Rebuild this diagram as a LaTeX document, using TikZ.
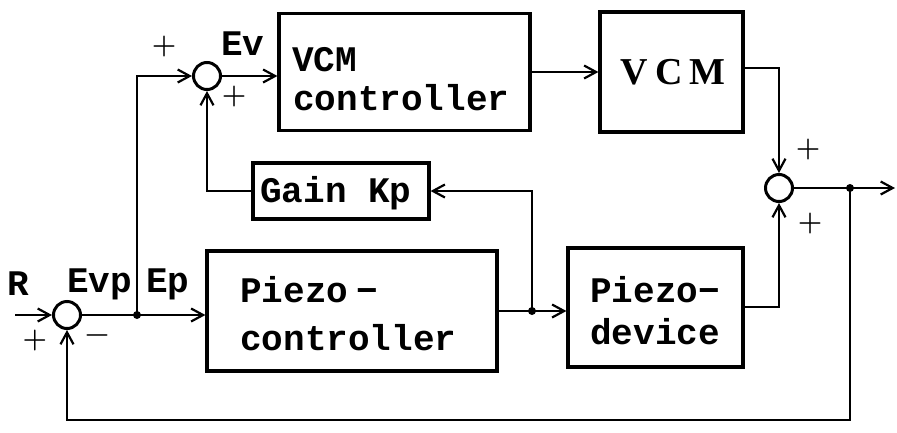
\documentclass[tikz,border=0pt]{standalone}
\usepackage{fontspec}
\setmonofont{Liberation Mono}
\newfontfamily\serifb{Liberation Serif}
\usetikzlibrary{arrows.meta}
\begin{document}
\begin{tikzpicture}[x=1pt,y=-1pt,
  blk/.style={draw,line width=3.2pt},
  sumc/.style={draw,circle,line width=3pt,minimum size=27pt,inner sep=0pt},
  txt/.style={font=\ttfamily\bfseries\fontsize{36}{38}\selectfont,inner sep=0pt,anchor=west},
  sgn/.style={font=\bfseries\fontsize{28}{28}\selectfont,inner sep=0pt},
  ln/.style={line width=2.8pt},
  arr/.style={ln,-{Straight Barb[length=12pt,width=13pt,line width=2.2pt]}},
  dot/.style={circle,fill,inner sep=0pt,minimum size=8pt}]
\useasboundingbox (0,0) rectangle (897,432);
% blocks
\node[blk,minimum width=251pt,minimum height=117pt] (vcmc) at (404.5,72) {};
\node[blk,minimum width=143pt,minimum height=120pt] (vcm) at (671.5,72) {};
\node[blk,minimum width=176pt,minimum height=56pt] (gain) at (341,191) {};
\node[blk,minimum width=290pt,minimum height=120pt] (pc) at (352,311) {};
\node[blk,minimum width=175pt,minimum height=119pt] (pd) at (655.5,307.5) {};
% texts
\node[txt] (t1) at (292,60) {VCM};
\node[txt] (t2) at (293,98) {controller};
\node[font=\serifb\bfseries\fontsize{38}{40}\selectfont,inner sep=0pt] (t3) at (673,72) {V\hspace{7pt}C\hspace{7pt}M};
\node[txt] (t4) at (260,193) {Gain Kp};
\node[txt] (t5) at (240,290) {Piezo\hspace{8pt}−};
\node[txt] (t6) at (240,338) {controller};
\node[txt] (t7) at (590,290) {Piezo−};
\node[txt] (t8) at (590,332) {device};
% sums
\node[sumc] (s1) at (67,315) {};
\node[sumc] (s2) at (207,76) {};
\node[sumc] (s3) at (779,188) {};
% coordinates
\coordinate (in) at (15,315);
\coordinate (j1) at (137,315);
\coordinate (j2) at (532,311);
\coordinate (j3) at (850,188);
\coordinate (out) at (895,188);
\node[dot] (d1) at (j1) {};
\node[dot] (d2) at (j2) {};
\node[dot] (d3) at (j3) {};
% labels
\node[txt] (lR) at (7,284) {R};
\node[txt] (lEvp) at (67,284) {Evp};
\node[txt] (lEp) at (146,284) {Ep};
\node[txt] (lEv) at (221,44) {Ev};
\node[sgn] (p1) at (35,341) {+};
\node[sgn] (m1) at (97,339) {−};
\node[sgn] (p2) at (164,47) {+};
\node[sgn] (p3) at (234,97) {+};
\node[sgn] (p4) at (808,150) {+};
\node[sgn] (p5) at (810,224) {+};
% connectors
\draw[arr] (in) -- (s1.west);
\draw[ln] (s1.east) -- (j1);
\draw[arr] (j1) -- (pc.west |- j1);
\draw[arr] (j1) |- (s2.west);
\draw[arr] (s2.east) -- (vcmc.west |- s2);
\draw[arr] (vcmc.east |- 0,72) -- (vcm.west |- 0,72);
\draw[ln] (pc.east |- j2) -- (j2);
\draw[arr] (j2) -- (pd.west |- j2);
\draw[arr] (j2) |- (gain.east);
\draw[arr] (gain.west) -| (s2.south);
\draw[arr] (vcm.east |- 0,68) -| (s3.north);
\draw[arr] (pd.east |- 0,307) -| (s3.south);
\draw[ln] (s3.east) -- (j3);
\draw[arr] (j3) -- (out);
\draw[arr] (j3) |- (67,420) -- (s1.south);
\end{tikzpicture}
\end{document}
